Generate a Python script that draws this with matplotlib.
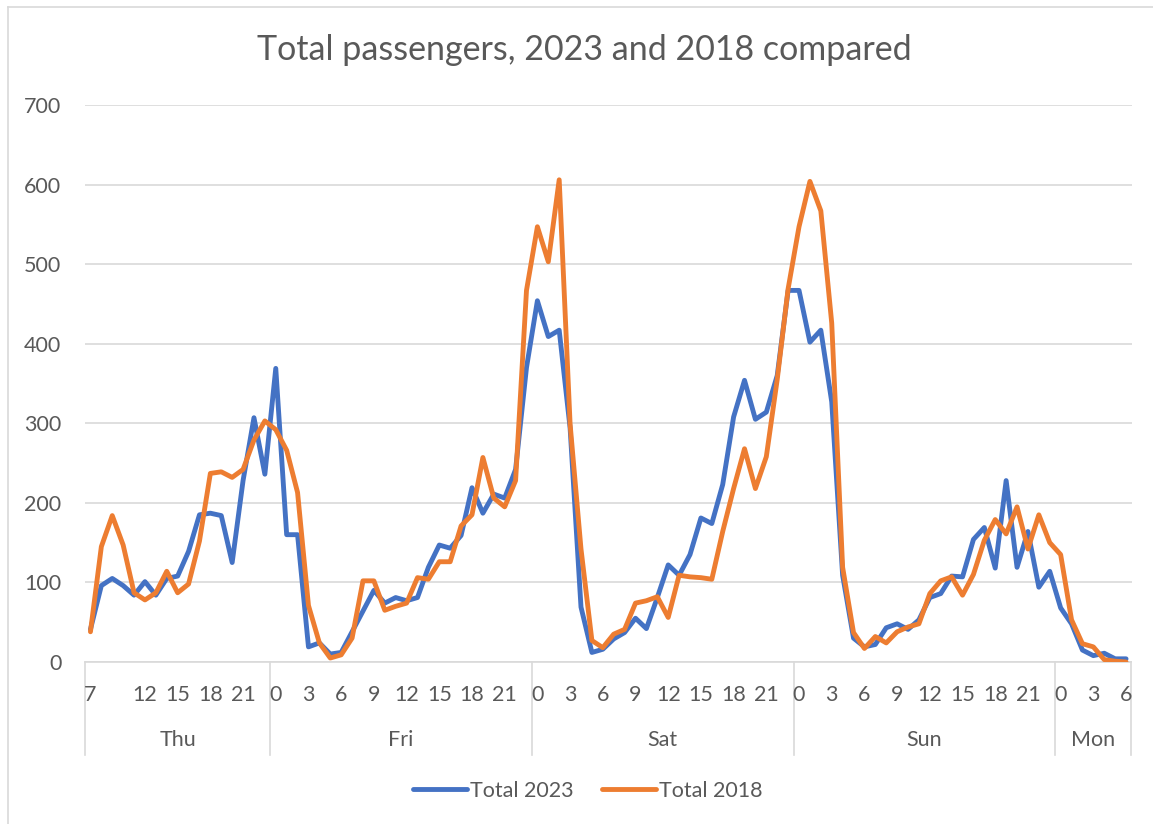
import matplotlib
matplotlib.use("Agg")
import matplotlib.pyplot as plt
import matplotlib.transforms as transforms
from matplotlib.lines import Line2D

plt.rcParams['font.family'] = ['Lato', 'DejaVu Sans']

# hourly totals, one list per day
days = ["Thu", "Fri", "Sat", "Sun", "Mon"]
thu_hours = list(range(7, 24))
fri_hours = list(range(0, 24))
sat_hours = list(range(0, 24))
sun_hours = list(range(0, 24))
mon_hours = list(range(0, 7))

thu_2023 = [41, 96, 105, 96, 84, 101, 84, 105, 108, 139, 185, 187, 184, 125, 228, 307, 236]
fri_2023 = [369, 160, 160, 19, 24, 10, 12, 38, 64, 90, 74, 81, 77, 81, 119, 147, 143, 159,
            219, 187, 211, 206, 242, 370]
sat_2023 = [454, 409, 417, 294, 69, 12, 16, 29, 37, 55, 42, 81, 122, 109, 135, 181, 174, 223,
            308, 354, 305, 314, 360, 467]
sun_2023 = [467, 402, 417, 327, 109, 30, 19, 22, 43, 48, 41, 53, 81, 86, 108, 107, 154, 169,
            118, 228, 119, 164, 94, 114]
mon_2023 = [68, 48, 15, 8, 11, 4, 4]

thu_2018 = [38, 145, 184, 147, 87, 78, 87, 114, 87, 98, 152, 237, 239, 232, 242, 279, 303]
fri_2018 = [292, 266, 213, 71, 24, 5, 9, 30, 102, 102, 65, 70, 74, 106, 104, 126, 126, 171,
            185, 257, 206, 195, 228, 467]
sat_2018 = [547, 503, 606, 299, 142, 27, 18, 35, 41, 74, 77, 82, 56, 109, 107, 106, 104, 164,
            218, 268, 218, 258, 355, 469]
sun_2018 = [547, 604, 567, 426, 119, 37, 17, 32, 24, 38, 44, 48, 86, 102, 107, 84, 110, 153,
            179, 161, 195, 142, 185, 150]
mon_2018 = [135, 53, 23, 19, 3, 1, 0]

# hour labels shown under each day
thu_labels = [7, 12, 15, 18, 21]
full_day_labels = [0, 3, 6, 9, 12, 15, 18, 21]
mon_labels = [0, 3, 6]

hours = [thu_hours, fri_hours, sat_hours, sun_hours, mon_hours]
shown = [thu_labels, full_day_labels, full_day_labels, full_day_labels, mon_labels]
total_2023 = thu_2023 + fri_2023 + sat_2023 + sun_2023 + mon_2023
total_2018 = thu_2018 + fri_2018 + sat_2018 + sun_2018 + mon_2018

BLUE = "#4472C4"
ORANGE = "#ED7D31"
GRID = "#D9D9D9"
TEXT = "#595959"
W, H = 1153, 824
FS = 15.5

fig = plt.figure(figsize=(W / 100, H / 100), dpi=100)
ax = fig.add_axes([85 / W, 1 - 662 / H, (1131.5 - 85) / W, (662 - 105) / H])

x = list(range(len(total_2023)))
ax.plot(x, total_2023, color=BLUE, lw=3.5, solid_joinstyle='round', solid_capstyle='round',
        label="Total 2023", zorder=3)
ax.plot(x, total_2018, color=ORANGE, lw=3.5, solid_joinstyle='round', solid_capstyle='round',
        label="Total 2018", zorder=4)

ax.set_xlim(-0.5, len(x) - 0.5)
ax.set_ylim(0, 700)
ax.set_yticks(range(0, 701, 100))
ax.yaxis.grid(True, color=GRID, lw=1.2)
ax.set_axisbelow(True)
for side in ["top", "right", "left"]:
    ax.spines[side].set_visible(False)
ax.spines["bottom"].set_color(GRID)
ax.spines["bottom"].set_linewidth(1.2)
ax.tick_params(axis='y', length=0, pad=17, labelsize=FS, labelcolor=TEXT)

# two-level category axis: hours, then days with separators
ax.set_xticks([])
trans = transforms.blended_transform_factory(ax.transData, fig.transFigure)
y_axis = 1 - 662 / H
y_hour = 1 - 695 / H
y_day = 1 - 740 / H
y_sep = 1 - 755 / H

start = 0
bounds = [-0.5]
for day, hrs, labs in zip(days, hours, shown):
    for h in labs:
        pos = start + hrs.index(h)
        ax.text(pos, y_hour, str(h), transform=trans, ha='center', va='center',
                fontsize=FS, color=TEXT)
    end = start + len(hrs)
    ax.text((start + end - 1) / 2, y_day, day, transform=trans, ha='center', va='center',
            fontsize=FS, color=TEXT)
    bounds.append(end - 0.5)
    start = end

for b in bounds:
    ax.plot([b, b], [y_axis, y_sep], transform=trans, color=GRID, lw=1.2, clip_on=False)

fig.text(584 / W, 1 - 50 / H, "Total passengers, 2023 and 2018 compared", ha='center',
         va='center', fontsize=24.5, color=TEXT)

fig.legend(loc='center', bbox_to_anchor=(588 / W, 1 - 791 / H), ncol=2, frameon=False,
           fontsize=FS, labelcolor=TEXT, handlelength=2.5, handletextpad=0.15,
           columnspacing=1.3)

# chart area border (top and left edges visible)
fig.add_artist(Line2D([8 / W, 8 / W], [0, 1 - 7 / H], color=GRID, lw=1.2))
fig.add_artist(Line2D([8 / W, 1], [1 - 7 / H, 1 - 7 / H], color=GRID, lw=1.2))

fig.savefig("out.png", dpi=100)
